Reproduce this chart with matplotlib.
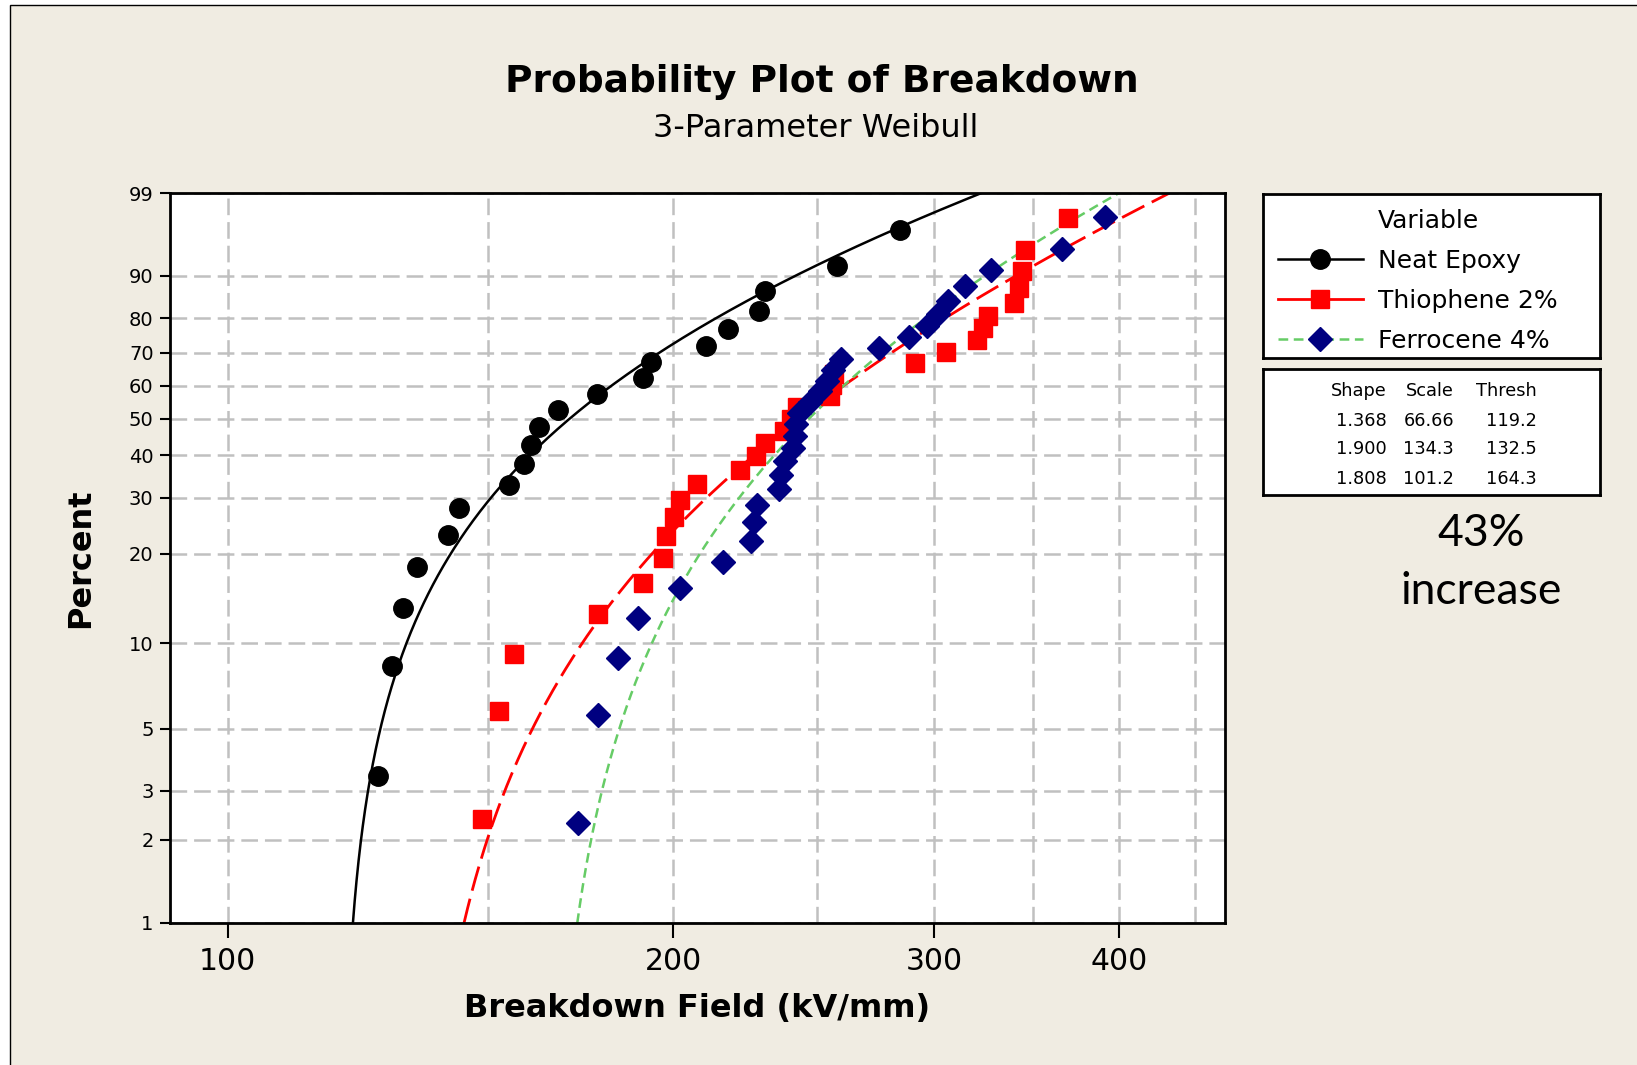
import numpy as np
import matplotlib
matplotlib.use("Agg")
import matplotlib.pyplot as plt
from matplotlib.lines import Line2D
from matplotlib.patches import Rectangle
from matplotlib.ticker import NullFormatter

plt.rcParams['font.family'] = ['DejaVu Sans']
plt.rcParams['lines.scale_dashes'] = False

W, H = 1637, 1065
BG = '#f0ece2'
GRID = '#c0c0c0'

# breakdown field values (kV/mm)
neat_epoxy = [126.4, 129.1, 131.4, 134.2, 140.9, 143.4, 155.0, 158.6, 160.2, 162.3,
              167.1, 177.7, 190.9, 193.3, 210.4, 217.7, 228.6, 230.5, 258.1, 284.6]
neat_pct = [3.4, 8.3, 13.2, 18.1, 23.0, 27.9, 32.8, 37.7, 42.6, 47.5,
            52.5, 57.4, 62.3, 67.2, 72.1, 77.0, 81.9, 86.8, 91.7, 96.6]

thiophene = [148.5, 152.5, 156.0, 177.9, 190.9, 196.9, 197.8, 200.3, 202.1, 207.5,
             221.7, 227.6, 230.8, 237.6, 240.0, 242.3, 255.2, 256.0, 256.9, 291.2,
             305.7, 320.9, 323.6, 326.5, 339.8, 342.6, 344.1, 345.8, 369.4]
thio_pct = [2.38, 5.78, 9.18, 12.59, 15.99, 19.39, 22.79, 26.19, 29.59, 32.99,
            36.39, 39.80, 43.20, 46.60, 50.00, 53.40, 56.80, 60.20, 63.61, 67.01,
            70.41, 73.81, 77.21, 80.61, 84.01, 87.41, 90.82, 94.22, 97.62]

ferrocene = [172.5, 177.8, 183.5, 189.2, 202.0, 216.0, 225.7, 226.8, 227.7, 235.7,
             236.5, 237.9, 241.0, 241.6, 241.9, 243.1, 247.5, 251.1, 254.0, 256.4,
             259.4, 275.2, 288.7, 296.6, 302.0, 306.8, 314.8, 328.0, 366.0, 391.5]
ferro_pct = [2.30, 5.59, 8.88, 12.17, 15.46, 18.75, 22.04, 25.33, 28.62, 31.91,
             35.20, 38.49, 41.78, 45.07, 48.36, 51.64, 54.93, 58.22, 61.51, 64.80,
             68.09, 71.38, 74.67, 77.96, 81.25, 84.54, 87.83, 91.12, 94.41, 97.70]

labels = ['Neat Epoxy', 'Thiophene 2%', 'Ferrocene 4%']
shapes = [1.368, 1.900, 1.808]
scales = [66.66, 134.3, 101.2]
threshs = [119.2, 132.5, 164.3]

x_ticks = [100, 200, 300, 400]
x_grid = [150, 250, 350, 450]
y_ticks = [1, 2, 3, 5, 10, 20, 30, 40, 50, 60, 70, 80, 90, 99]


def fwd(p):
    with np.errstate(all='ignore'):
        return np.log(-np.log(1 - np.asarray(p) / 100.0))


def inv(y):
    with np.errstate(all='ignore'):
        return 100.0 * (1 - np.exp(-np.exp(np.asarray(y))))


def fx(x):
    return x / W


def fy(y):
    return 1 - y / H


fig = plt.figure(figsize=(W / 100, H / 100), dpi=100)
fig.patch.set_facecolor('white')
fig.add_artist(Rectangle((fx(10.4), -0.02), 1.05 - fx(10.4), fy(5.2) + 0.02,
                         transform=fig.transFigure, facecolor=BG,
                         edgecolor='black', lw=1, zorder=-5))

ax = fig.add_axes([fx(170.2), fy(923), (1224.7 - 170.2) / W, (923 - 193.2) / H])
ax.set_facecolor('white')
ax.set_xscale('log')
ax.set_yscale('function', functions=(fwd, inv))
ax.set_xlim(91.45, 471.5)
ax.set_ylim(1, 99)

styles = [
    dict(color='black', ls='-', lw=1.8, marker='o', mfc='black', ms=14),
    dict(color='#ff0000', ls=(0, (18, 6)), lw=2.0, marker='s', mfc='#ff0000', ms=13.5),
    dict(color='#66cc66', ls=(0, (7, 4)), lw=1.8, marker='D', mfc='#000080', ms=12.5),
]
series = [(neat_epoxy, neat_pct), (thiophene, thio_pct), (ferrocene, ferro_pct)]

# fitted 3-parameter Weibull lines from the table parameters
yy = np.linspace(fwd(1), fwd(99), 400)
for k in range(3):
    st = styles[k]
    xfit = threshs[k] + scales[k] * np.exp(yy / shapes[k])
    ax.plot(xfit, inv(yy), color=st['color'], ls=st['ls'], lw=st['lw'], zorder=2)
for k in range(3):
    st = styles[k]
    xs, ps = series[k]
    ax.plot(xs, ps, ls='none', marker=st['marker'], ms=st['ms'],
            mfc=st['mfc'], mec=st['mfc'], zorder=3 + k)

ax.set_xticks(x_ticks)
ax.set_xticklabels([str(v) for v in x_ticks])
ax.set_xticks(x_grid, minor=True)
ax.xaxis.set_minor_formatter(NullFormatter())
ax.set_yticks(y_ticks)
ax.set_yticklabels([str(v) for v in y_ticks])
ax.yaxis.set_minor_locator(matplotlib.ticker.NullLocator())

ax.set_axisbelow(True)
ax.grid(True, which='both', axis='x', color=GRID, ls=(0, (12, 5)), lw=1.8)
ax.grid(True, which='major', axis='y', color=GRID, ls=(0, (12, 5)), lw=1.8)

ax.tick_params(axis='x', which='major', length=11, width=1.5, pad=6, labelsize=21.5)
ax.tick_params(axis='x', which='minor', length=0)
ax.tick_params(axis='y', which='major', length=7, width=1.5, pad=5, labelsize=14)
for sp in ax.spines.values():
    sp.set_linewidth(2)
    sp.set_color('black')

ax.set_xlabel('Breakdown Field (kV/mm)', fontsize=23, weight='bold')
ax.xaxis.set_label_coords(0.5, -(1008.6 - 923) / (923 - 193.2))
ax.xaxis.label.set_verticalalignment('center')
ax.set_ylabel('Percent', fontsize=23, weight='bold')
ax.yaxis.set_label_coords(-(170.2 - 80.4) / (1224.7 - 170.2), 0.5)
ax.yaxis.label.set_verticalalignment('center')

fig.text(fx(821.7), fy(82.5), 'Probability Plot of Breakdown', ha='center', va='center',
         fontsize=27, weight='bold')
fig.text(fx(815.4), fy(128.4), '3-Parameter Weibull', ha='center', va='center', fontsize=23)

# legend box
lax = fig.add_axes([fx(1263.3), fy(358.1), (1599.5 - 1263.3) / W, (358.1 - 194.2) / H])
lax.set_facecolor('white')
lax.set_xticks([])
lax.set_yticks([])
for sp in lax.spines.values():
    sp.set_linewidth(2)
handles = [Line2D([], [], ls='none', label='Variable')]
for k in range(3):
    st = styles[k]
    ls = '-' if k == 1 else st['ls']
    handles.append(Line2D([], [], color=st['color'], ls=ls, lw=st['lw'], marker=st['marker'],
                          ms=st['ms'], mfc=st['mfc'], mec=st['mfc'], label=labels[k]))
lax.legend(handles=handles, loc='upper left', bbox_to_anchor=(0, 1), frameon=False,
           fontsize=18, handlelength=3.4, handletextpad=0.6, borderpad=0.58,
           borderaxespad=0, labelspacing=0.64, numpoints=1)

# parameter table
sax = fig.add_axes([fx(1263.3), fy(494.9), (1599.5 - 1263.3) / W, (494.9 - 368.5) / H])
sax.set_facecolor('white')
sax.set_xticks([])
sax.set_yticks([])
for sp in sax.spines.values():
    sp.set_linewidth(2)
col_x = [1386.5, 1454, 1537]
row_y = [420.8, 449, 479.2]
for cx, head in zip(col_x, ['Shape', 'Scale', 'Thresh']):
    fig.text(fx(cx), fy(391.5), head, ha='right', va='center', fontsize=12.8)
for k in range(3):
    fig.text(fx(col_x[0]), fy(row_y[k]), f'{shapes[k]:.3f}', ha='right', va='center', fontsize=12.8)
    fig.text(fx(col_x[1]), fy(row_y[k]), f'{scales[k]:.4g}', ha='right', va='center', fontsize=12.8)
    fig.text(fx(col_x[2]), fy(row_y[k]), f'{threshs[k]:.1f}', ha='right', va='center', fontsize=12.8)

fig.text(fx(1481.5), fy(533.5), '43%', ha='center', va='center', fontsize=32, family=['Lato', 'DejaVu Sans'])
fig.text(fx(1481.5), fy(591), 'increase', ha='center', va='center', fontsize=32, family=['Lato', 'DejaVu Sans'])

fig.savefig('out.png', dpi=100, facecolor=fig.get_facecolor())
